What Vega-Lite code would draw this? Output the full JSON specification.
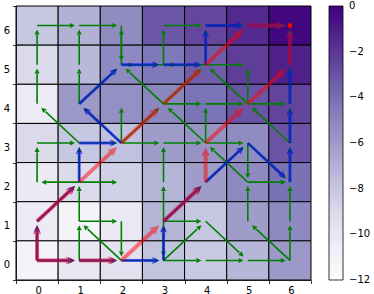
{
  "$schema": "https://vega.github.io/schema/vega-lite/v6.json",
  "width": 295,
  "height": 274,
  "autosize": {"type": "none"},
  "padding": {"left": 16, "top": 6, "right": 63, "bottom": 14},
  "background": "white",
  "config": {"font": "DejaVu Sans", "view": {"stroke": null}},
  "datasets": {
    "cells": [
      {"x":0,"y":6,"v":-8},{"x":1,"y":6,"v":-7},{"x":2,"y":6,"v":-5.3},{"x":3,"y":6,"v":-3.2},{"x":4,"y":6,"v":-2.6},{"x":5,"y":6,"v":-1.6},{"x":6,"y":6,"v":-0.2},
      {"x":0,"y":5,"v":-9},{"x":1,"y":5,"v":-7.3},{"x":2,"y":5,"v":-5.2},{"x":3,"y":5,"v":-4.4},{"x":4,"y":5,"v":-3.4},{"x":5,"y":5,"v":-2.3},{"x":6,"y":5,"v":-1.2},
      {"x":0,"y":4,"v":-10.3},{"x":1,"y":4,"v":-5.9},{"x":2,"y":4,"v":-5.5},{"x":3,"y":4,"v":-5},{"x":4,"y":4,"v":-4.2},{"x":5,"y":4,"v":-3.1},{"x":6,"y":4,"v":-2.5},
      {"x":0,"y":3,"v":-9},{"x":1,"y":3,"v":-8},{"x":2,"y":3,"v":-7.7},{"x":3,"y":3,"v":-6.1},{"x":4,"y":3,"v":-5.6},{"x":5,"y":3,"v":-5.3},{"x":6,"y":3,"v":-3.1},
      {"x":0,"y":2,"v":-10.2},{"x":1,"y":2,"v":-9.1},{"x":2,"y":2,"v":-8.5},{"x":3,"y":2,"v":-7.1},{"x":4,"y":2,"v":-6.1},{"x":5,"y":2,"v":-5.2},{"x":6,"y":2,"v":-4.1},
      {"x":0,"y":1,"v":-10.3},{"x":1,"y":1,"v":-11.1},{"x":2,"y":1,"v":-10.1},{"x":3,"y":1,"v":-7.1},{"x":4,"y":1,"v":-8},{"x":5,"y":1,"v":-6.1},{"x":6,"y":1,"v":-5.2},
      {"x":0,"y":0,"v":-11.2},{"x":1,"y":0,"v":-10},{"x":2,"y":0,"v":-9.6},{"x":3,"y":0,"v":-7.8},{"x":4,"y":0,"v":-8.1},{"x":5,"y":0,"v":-7.2},{"x":6,"y":0,"v":-5.9}
    ],
    "g": [
      {"x":0,"y":6,"x2":1,"y2":6,"a":"E"},{"x":1,"y":6,"x2":2,"y2":6,"a":"E"},{"x":3,"y":6,"x2":4,"y2":6,"a":"E"},
      {"x":0,"y":5,"x2":0,"y2":6,"a":"N"},{"x":1,"y":5,"x2":1,"y2":6,"a":"N"},{"x":2,"y":5,"x2":2,"y2":6,"a":"N"},
      {"x":2,"y":6,"x2":2,"y2":5,"a":"S"},{"x":3,"y":5,"x2":3,"y2":6,"a":"N"},{"x":3,"y":5,"x2":2,"y2":5,"a":"W"},
      {"x":4,"y":5,"x2":3,"y2":5,"a":"W"},{"x":4,"y":5,"x2":5,"y2":5,"a":"E"},{"x":0,"y":4,"x2":0,"y2":5,"a":"N"},
      {"x":1,"y":4,"x2":1,"y2":5,"a":"N"},{"x":5,"y":4,"x2":5,"y2":5,"a":"N"},{"x":3,"y":4,"x2":2,"y2":5,"a":"NW"},
      {"x":3,"y":4,"x2":4,"y2":5,"a":"NE"},{"x":5,"y":4,"x2":4,"y2":5,"a":"NW"},{"x":3,"y":4,"x2":4,"y2":4,"a":"E"},
      {"x":4,"y":4,"x2":5,"y2":4,"a":"E"},{"x":5,"y":4,"x2":6,"y2":4,"a":"E"},{"x":1,"y":3,"x2":0,"y2":4,"a":"NW"},
      {"x":2,"y":3,"x2":2,"y2":4,"a":"N"},{"x":2,"y":3,"x2":3,"y2":4,"a":"NE"},{"x":4,"y":3,"x2":4,"y2":4,"a":"N"},
      {"x":4,"y":3,"x2":3,"y2":4,"a":"NW"},{"x":6,"y":3,"x2":5,"y2":4,"a":"NW"},{"x":5,"y":3,"x2":5,"y2":2,"a":"S"},
      {"x":0,"y":3,"x2":1,"y2":3,"a":"E"},{"x":2,"y":3,"x2":3,"y2":3,"a":"E"},{"x":3,"y":3,"x2":4,"y2":3,"a":"E"},
      {"x":4,"y":3,"x2":5,"y2":3,"a":"E"},{"x":5,"y":2,"x2":4,"y2":3,"a":"NW"},{"x":0,"y":2,"x2":0,"y2":3,"a":"N"},
      {"x":3,"y":2,"x2":3,"y2":3,"a":"N"},{"x":1,"y":2,"x2":0,"y2":2,"a":"W"},{"x":1,"y":2,"x2":2,"y2":2,"a":"E"},
      {"x":3,"y":1,"x2":3,"y2":2,"a":"N"},{"x":5,"y":2,"x2":6,"y2":2,"a":"E"},{"x":5,"y":1,"x2":5,"y2":2,"a":"N"},
      {"x":6,"y":1,"x2":6,"y2":2,"a":"N"},{"x":1,"y":1,"x2":1,"y2":2,"a":"N"},{"x":1,"y":1,"x2":2,"y2":1,"a":"E"},
      {"x":2,"y":0,"x2":1,"y2":1,"a":"NW"},{"x":1,"y":0,"x2":1,"y2":1,"a":"N"},{"x":2,"y":1,"x2":2,"y2":0,"a":"S"},
      {"x":3,"y":1,"x2":4,"y2":1,"a":"E"},{"x":4,"y":1,"x2":5,"y2":0,"a":"SE"},{"x":6,"y":0,"x2":5,"y2":1,"a":"NW"},
      {"x":6,"y":0,"x2":6,"y2":1,"a":"N"},{"x":3,"y":0,"x2":4,"y2":1,"a":"NE"},{"x":3,"y":0,"x2":4,"y2":0,"a":"E"},
      {"x":4,"y":0,"x2":5,"y2":0,"a":"E"},{"x":5,"y":0,"x2":6,"y2":0,"a":"E"},{"x":3,"y":1,"x2":3,"y2":0,"a":"S"},
      {"x":0,"y":0,"x2":0,"y2":1,"a":"N"},{"x":0,"y":1,"x2":1,"y2":2,"a":"NE"},{"x":1,"y":2,"x2":1,"y2":3,"a":"N"},
      {"x":1,"y":3,"x2":2,"y2":3,"a":"E"},{"x":2,"y":3,"x2":1,"y2":4,"a":"NW"},{"x":1,"y":4,"x2":2,"y2":5,"a":"NE"},
      {"x":2,"y":5,"x2":3,"y2":5,"a":"E"},{"x":3,"y":5,"x2":4,"y2":5,"a":"E"},{"x":4,"y":5,"x2":4,"y2":6,"a":"N"},
      {"x":4,"y":6,"x2":5,"y2":6,"a":"E"},{"x":5,"y":6,"x2":6,"y2":6,"a":"E"},
      {"x":0,"y":0,"x2":1,"y2":0,"a":"E"},{"x":1,"y":0,"x2":2,"y2":0,"a":"E"},{"x":2,"y":0,"x2":3,"y2":0,"a":"E"},
      {"x":3,"y":0,"x2":3,"y2":1,"a":"N"},{"x":3,"y":1,"x2":4,"y2":2,"a":"NE"},{"x":4,"y":2,"x2":5,"y2":3,"a":"NE"},
      {"x":5,"y":3,"x2":6,"y2":2,"a":"SE"},{"x":6,"y":2,"x2":6,"y2":3,"a":"N"},{"x":6,"y":3,"x2":6,"y2":4,"a":"N"},
      {"x":6,"y":4,"x2":6,"y2":5,"a":"N"},{"x":6,"y":5,"x2":6,"y2":6,"a":"N"}
    ],
    "b": [
      {"x":0,"y":0,"x2":0,"y2":1,"a":"N"},{"x":0,"y":1,"x2":1,"y2":2,"a":"NE"},{"x":1,"y":2,"x2":1,"y2":3,"a":"N"},
      {"x":1,"y":3,"x2":2,"y2":3,"a":"E"},{"x":2,"y":3,"x2":1,"y2":4,"a":"NW"},{"x":1,"y":4,"x2":2,"y2":5,"a":"NE"},
      {"x":2,"y":5,"x2":3,"y2":5,"a":"E"},{"x":3,"y":5,"x2":4,"y2":5,"a":"E"},{"x":4,"y":5,"x2":4,"y2":6,"a":"N"},
      {"x":4,"y":6,"x2":5,"y2":6,"a":"E"},{"x":5,"y":6,"x2":6,"y2":6,"a":"E"},
      {"x":0,"y":0,"x2":1,"y2":0,"a":"E"},{"x":1,"y":0,"x2":2,"y2":0,"a":"E"},{"x":2,"y":0,"x2":3,"y2":0,"a":"E"},
      {"x":3,"y":0,"x2":3,"y2":1,"a":"N"},{"x":3,"y":1,"x2":4,"y2":2,"a":"NE"},{"x":4,"y":2,"x2":5,"y2":3,"a":"NE"},
      {"x":5,"y":3,"x2":6,"y2":2,"a":"SE"},{"x":6,"y":2,"x2":6,"y2":3,"a":"N"},{"x":6,"y":3,"x2":6,"y2":4,"a":"N"},
      {"x":6,"y":4,"x2":6,"y2":5,"a":"N"},{"x":6,"y":5,"x2":6,"y2":6,"a":"N"}
    ],
    "r": [
      {"x":0,"y":0,"x2":0,"y2":1,"a":"N"},{"x":0,"y":1,"x2":1,"y2":2,"a":"NE"},{"x":1,"y":2,"x2":2,"y2":3,"a":"NE"},
      {"x":2,"y":3,"x2":3,"y2":4,"a":"NE"},{"x":3,"y":4,"x2":4,"y2":5,"a":"NE"},{"x":4,"y":5,"x2":5,"y2":6,"a":"NE"},
      {"x":5,"y":6,"x2":6,"y2":6,"a":"E"},
      {"x":0,"y":0,"x2":1,"y2":0,"a":"E"},{"x":1,"y":0,"x2":2,"y2":0,"a":"E"},{"x":2,"y":0,"x2":3,"y2":1,"a":"NE"},
      {"x":3,"y":1,"x2":4,"y2":2,"a":"NE"},{"x":4,"y":2,"x2":4,"y2":3,"a":"N"},{"x":4,"y":3,"x2":5,"y2":4,"a":"NE"},
      {"x":5,"y":4,"x2":6,"y2":5,"a":"NE"},{"x":6,"y":5,"x2":6,"y2":6,"a":"N"}
    ],
    "goal": [{"x":6,"y":6}]
  },
  "layer": [
    {
      "data": {"name": "cells"},
      "mark": {"type": "rect", "stroke": "black", "strokeWidth": 1},
      "encoding": {
        "x": {"field": "x", "type": "ordinal", "scale": {"paddingInner": 0, "paddingOuter": 0},
          "axis": {"orient": "bottom", "tickBand": "extent", "labelOffset": 1, "labelAngle": 0, "grid": false, "title": null,
            "tickSize": 3.5, "tickColor": "black", "tickWidth": 0.8, "domainColor": "black", "domainWidth": 0.8,
            "labelFontSize": 10, "labelColor": "black", "labelPadding": 1.5}},
        "y": {"field": "y", "type": "ordinal", "sort": "descending", "scale": {"paddingInner": 0, "paddingOuter": 0},
          "axis": {"orient": "left", "tickBand": "extent", "labelOffset": 4.5, "grid": false, "title": null,
            "tickSize": 3.5, "tickColor": "black", "tickWidth": 0.8, "domainColor": "black", "domainWidth": 0.8,
            "labelFontSize": 10, "labelColor": "black", "labelPadding": 3}},
        "color": {
          "field": "v", "type": "quantitative",
          "scale": {"domain": [-12, -10.5, -9, -7.5, -6, -4.5, -3, -1.5, 0],
            "range": ["#fcfbfd", "#efedf5", "#dadaeb", "#bcbddc", "#9e9ac8", "#807dba", "#6a51a3", "#54278f", "#3f007d"]},
          "legend": {
            "title": null, "orient": "right", "offset": 18, "direction": "vertical",
            "gradientLength": 274, "gradientThickness": 14,
            "values": [0, -2, -4, -6, -8, -10, -12],
            "labelFontSize": 10, "labelColor": "black", "labelFont": "DejaVu Sans", "labelOffset": 6,
            "gradientStrokeColor": "black", "gradientStrokeWidth": 0.8,
            "encode": {"labels": {"update": {"baseline": {"value": "middle"}}}}
          }
        }
      }
    },
    {
      "layer": [
        {
          "data": {"name": "g"},
          "mark": {"type": "rule", "color": "#008000", "strokeWidth": 1.6},
          "encoding": {
            "x": {"field": "x", "type": "quantitative", "scale": {"domain": [-0.5, 6.5], "nice": false, "zero": false}, "axis": null},
            "y": {"field": "y", "type": "quantitative", "scale": {"domain": [-0.5, 6.5], "nice": false, "zero": false}, "axis": null},
            "x2": {"field": "x2"},
            "y2": {"field": "y2"},
            "strokeDash": {"field": "a", "type": "nominal", "legend": null,
              "scale": {"domain": ["E","W","N","S","NE","NW","SE","SW"],
                "range": [[33,1000],[33,1000],[30,1000],[30,1000],[46,1000],[46,1000],[46,1000],[46,1000]]}}
          }
        },
        {
          "data": {"name": "g"},
          "mark": {"type": "point", "filled": true, "color": "#008000", "opacity": 1, "size": 25, "strokeWidth": 0},
          "encoding": {
            "x": {"field": "x2", "type": "quantitative", "axis": null},
            "y": {"field": "y2", "type": "quantitative", "axis": null},
            "shape": {"field": "a", "type": "nominal", "legend": null,
              "scale": {"domain": ["E","W","N","S","NE","NW","SE","SW"],
                "range": ["M0,1.68L-1,3.68L1,3.68Z","M0,1.68L-1,3.68L1,3.68Z","M0,1.56L-1,3.56L1,3.56Z","M0,1.56L-1,3.56L1,3.56Z","M0,2.3L-1,4.3L1,4.3Z","M0,2.3L-1,4.3L1,4.3Z","M0,2.3L-1,4.3L1,4.3Z","M0,2.3L-1,4.3L1,4.3Z"]}},
            "angle": {"field": "a", "type": "nominal", "legend": null,
              "scale": {"type": "ordinal", "domain": ["E","W","N","S","NE","NW","SE","SW"], "range": [90, 270, 0, 180, 47.1, 312.9, 132.9, 227.1]}}
          }
        },
        {
          "data": {"name": "b"},
          "mark": {"type": "rule", "color": "#0000ff", "opacity": 0.6, "strokeWidth": 3},
          "encoding": {
            "x": {"field": "x", "type": "quantitative", "axis": null},
            "y": {"field": "y", "type": "quantitative", "axis": null},
            "x2": {"field": "x2"},
            "y2": {"field": "y2"},
            "strokeDash": {"field": "a", "type": "nominal", "legend": null,
              "scale": {"domain": ["E","W","N","S","NE","NW","SE","SW"],
                "range": [[31,1000],[31,1000],[28,1000],[28,1000],[45,1000],[45,1000],[45,1000],[45,1000]]}}
          }
        },
        {
          "data": {"name": "b"},
          "mark": {"type": "point", "filled": true, "color": "#0000ff", "opacity": 0.6, "size": 49, "strokeWidth": 0},
          "encoding": {
            "x": {"field": "x2", "type": "quantitative", "axis": null},
            "y": {"field": "y2", "type": "quantitative", "axis": null},
            "shape": {"field": "a", "type": "nominal", "legend": null,
              "scale": {"domain": ["E","W","N","S","NE","NW","SE","SW"],
                "range": ["M0,1.2L-1,3.2L1,3.2Z","M0,1.2L-1,3.2L1,3.2Z","M0,1.11L-1,3.11L1,3.11Z","M0,1.11L-1,3.11L1,3.11Z","M0,1.64L-1,3.64L1,3.64Z","M0,1.64L-1,3.64L1,3.64Z","M0,1.64L-1,3.64L1,3.64Z","M0,1.64L-1,3.64L1,3.64Z"]}},
            "angle": {"field": "a", "type": "nominal", "legend": null,
              "scale": {"type": "ordinal", "domain": ["E","W","N","S","NE","NW","SE","SW"], "range": [90, 270, 0, 180, 47.1, 312.9, 132.9, 227.1]}}
          }
        },
        {
          "data": {"name": "r"},
          "mark": {"type": "rule", "color": "#ff0000", "opacity": 0.5, "strokeWidth": 4},
          "encoding": {
            "x": {"field": "x", "type": "quantitative", "axis": null},
            "y": {"field": "y", "type": "quantitative", "axis": null},
            "x2": {"field": "x2"},
            "y2": {"field": "y2"},
            "strokeDash": {"field": "a", "type": "nominal", "legend": null,
              "scale": {"domain": ["E","W","N","S","NE","NW","SE","SW"],
                "range": [[29,1000],[29,1000],[26,1000],[26,1000],[43,1000],[43,1000],[43,1000],[43,1000]]}}
          }
        },
        {
          "data": {"name": "r"},
          "mark": {"type": "point", "filled": true, "color": "#ff0000", "opacity": 0.5, "size": 81, "strokeWidth": 0},
          "encoding": {
            "x": {"field": "x2", "type": "quantitative", "axis": null},
            "y": {"field": "y2", "type": "quantitative", "axis": null},
            "shape": {"field": "a", "type": "nominal", "legend": null,
              "scale": {"domain": ["E","W","N","S","NE","NW","SE","SW"],
                "range": ["M0,0.93L-0.9,2.93L0.9,2.93Z","M0,0.93L-0.9,2.93L0.9,2.93Z","M0,0.87L-0.9,2.87L0.9,2.87Z","M0,0.87L-0.9,2.87L0.9,2.87Z","M0,1.28L-0.9,3.28L0.9,3.28Z","M0,1.28L-0.9,3.28L0.9,3.28Z","M0,1.28L-0.9,3.28L0.9,3.28Z","M0,1.28L-0.9,3.28L0.9,3.28Z"]}},
            "angle": {"field": "a", "type": "nominal", "legend": null,
              "scale": {"type": "ordinal", "domain": ["E","W","N","S","NE","NW","SE","SW"], "range": [90, 270, 0, 180, 47.1, 312.9, 132.9, 227.1]}}
          }
        },
        {
          "data": {"name": "goal"},
          "mark": {"type": "point", "filled": true, "color": "#ff0000", "opacity": 1, "size": 18, "shape": "square", "strokeWidth": 0},
          "encoding": {
            "x": {"field": "x", "type": "quantitative", "axis": null},
            "y": {"field": "y", "type": "quantitative", "axis": null}
          }
        }
      ],
      "resolve": {"scale": {"shape": "independent", "strokeDash": "independent"}}
    }
  ],
  "resolve": {"scale": {"x": "independent", "y": "independent"}}
}
